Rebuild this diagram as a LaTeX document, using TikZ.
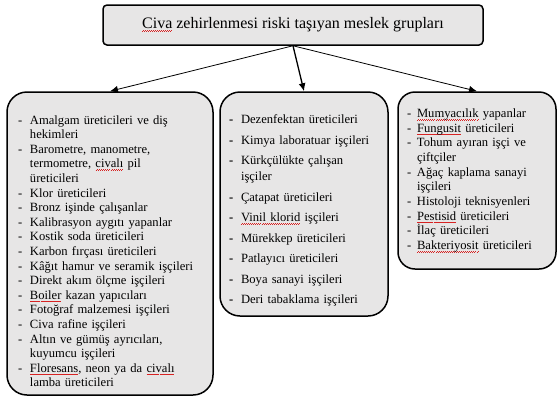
\documentclass[tikz,border=0pt]{standalone}
\usepackage{fontspec}
\setmainfont{Liberation Serif}
\usepackage{xcolor}
\usepackage{tikz}
\usetikzlibrary{
  arrows.meta,
  positioning
}
\definecolor{boxgray}{RGB}{231,230,230}
\definecolor{spellred}{RGB}{215,35,35}
% red wavy underline under the flagged words
\newsavebox{\spellbox}
\newcommand{\spell}[1]{\sbox{\spellbox}{#1}%
  \rlap{\textcolor{spellred}{\xleaders\hbox to 2pt{\rule[-2.8pt]{1pt}{0.6pt}\rule[-2.2pt]{1pt}{0.6pt}}\hskip\wd\spellbox}}%
  \usebox{\spellbox}}
% list dashes and continuation indent
\newcommand{\itm}{\makebox[12pt][l]{-}}
\newcommand{\itmr}{\makebox[10pt][l]{-}}
\newcommand{\itmb}{\makebox[12pt][l]{\textbf{-}}}
\newcommand{\cnt}{\hspace*{12pt}}
\newcommand{\cntr}{\hspace*{10pt}}
% taller first line pushes a list down inside its box
\newcommand{\topgap}[1]{\rule{0pt}{#1}}
\tikzset{
  titlebox/.style={
    draw,
    line width=1.5pt,
    rounded corners=4pt,
    fill=boxgray,
    minimum width=380pt,
    minimum height=40pt,
    inner sep=0pt,
    font=\fontsize{16}{18}\selectfont
  },
  listbox/.style={
    draw,
    line width=1.5pt,
    fill=boxgray,
    align=left,
    inner sep=0pt
  },
  linkarrow/.style={-{Latex[length=8pt,width=7pt]},line width=0.8pt},
}

\begin{document}
\begin{tikzpicture}[x=1pt,y=-1pt]
  \useasboundingbox (0,0) rectangle (558,397);

  % Heading
  \node[titlebox] (title) at (293,25) {\spell{Civa} zehirlenmesi riski taşıyan meslek grupları};

  % Left list
  \node[listbox,rounded corners=20pt,minimum width=206pt,minimum height=303pt,
        text width=184pt,font=\fontsize{12.6}{14.6}\selectfont] (leftlist) at (110,243.5) {%
    \itm\topgap{24pt}Amalgam üreticileri ve diş\\
    \cnt hekimleri\\
    \itm Barometre, manometre,\\
    \cnt termometre, \spell{civalı} pil\\
    \cnt üreticileri\\
    \itm Klor üreticileri\\
    \itm Bronz işinde çalışanlar\\
    \itm Kalibrasyon aygıtı yapanlar\\
    \itm Kostik soda üreticileri\\
    \itm Karbon fırçası üreticileri\\
    \itm Kâğıt hamur ve seramik işçileri\\
    \itm Direkt akım ölçme işçileri\\
    \itm \spell{Boiler} kazan yapıcıları\\
    \itm Fotoğraf malzemesi işçileri\\
    \itm Civa rafine işçileri\\
    \itm Altın ve gümüş ayrıcıları,\\
    \cnt kuyumcu işçileri\\
    \itm \spell{Floresans}, neon ya da \spell{civalı}\\
    \cnt lamba üreticileri};

  % Middle list
  \node[listbox,rounded corners=20pt,minimum width=168pt,minimum height=224pt,
        text width=150pt,font=\fontsize{12.6}{16}\selectfont] (midlist) at (304,204) {%
    \itmb\topgap{22pt}Dezenfektan üreticileri\\[4.5pt]
    \itmb Kimya laboratuar işçileri\\[4.5pt]
    \itmb Kürkçülükte çalışan\\
    \cnt işçiler\\[4.5pt]
    \itmb Çatapat üreticileri\\[4.5pt]
    \itmb \spell{Vinil klorid} işçileri\\[4.5pt]
    \itmb Mürekkep üreticileri\\[4.5pt]
    \itmb Patlayıcı üreticileri\\[4.5pt]
    \itmb Boya sanayi işçileri\\[4.5pt]
    \itmb Deri tabaklama işçileri};

  % Right list
  \node[listbox,rounded corners=17pt,minimum width=158pt,minimum height=177pt,
        text width=140pt,font=\fontsize{12.6}{14.7}\selectfont] (rightlist) at (477,180.5) {%
    \itmr \spell{Mumyacılık} yapanlar\\
    \itmr \spell{Fungusit} üreticileri\\
    \itmr Tohum ayıran işçi ve\\
    \cntr çiftçiler\\
    \itmr Ağaç kaplama sanayi\\
    \cntr işçileri\\
    \itmr Histoloji teknisyenleri\\
    \itmr \spell{Pestisid} üreticileri\\
    \itmr İlaç üreticileri\\
    \itmr \spell{Bakteriyosit} üreticileri};

  % Links from the heading
  \draw[linkarrow] (title.south) -- (leftlist.north);
  \draw[linkarrow,line width=1.3pt] (title.south) -- (midlist.north);
  \draw[linkarrow] (title.south) -- (rightlist.north);
\end{tikzpicture}
\end{document}
